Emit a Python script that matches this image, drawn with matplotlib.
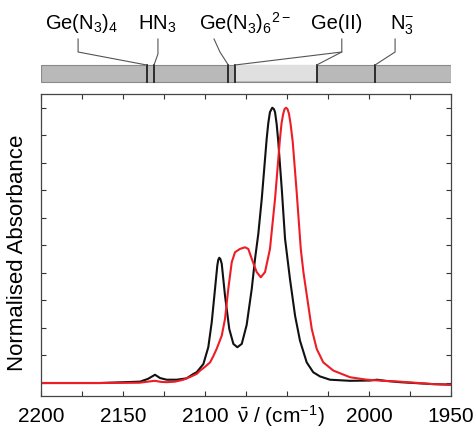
import matplotlib.pyplot as plt
from matplotlib.patches import Rectangle
import numpy as np

plt.rcParams['font.family'] = ['Liberation Sans', 'DejaVu Sans']
plt.rcParams['mathtext.fontset'] = 'custom'
plt.rcParams['mathtext.rm'] = 'Liberation Sans'
plt.rcParams['mathtext.it'] = 'Liberation Sans:italic'

# black spectrum (wavenumber, normalised absorbance)
wn_black = [2200, 2164, 2139.6, 2134.8, 2130.5, 2127.4, 2123.4, 2117.3, 2111.2,
            2107.1, 2105.1, 2101.0, 2098.0, 2095.9, 2093.9, 2092.5, 2091.9, 2091.3,
            2090.6, 2089.8, 2087.8, 2085.2, 2082.7, 2080.3, 2077.6, 2074.6, 2071.5,
            2069.5, 2067.5, 2065.4, 2062.4, 2061.4, 2060.4, 2059.0, 2058.0, 2057.3,
            2056.3, 2055.3, 2053.2, 2051.2, 2048.2, 2045.1, 2042.1, 2038.0, 2034.0,
            2029.9, 2023.8, 2011.6, 1999.4, 1995.1, 1990.2, 1981.1, 1961.0, 1950]
ab_black = [0.0, 0.0, 0.005, 0.015, 0.030, 0.018, 0.012, 0.012, 0.017,
            0.033, 0.039, 0.069, 0.130, 0.221, 0.342, 0.427, 0.448, 0.455,
            0.450, 0.433, 0.317, 0.196, 0.142, 0.130, 0.142, 0.211, 0.342,
            0.451, 0.542, 0.669, 0.887, 0.945, 0.984, 1.0, 0.995, 0.984,
            0.940, 0.875, 0.705, 0.524, 0.378, 0.245, 0.154, 0.075, 0.039,
            0.024, 0.012, 0.008, 0.009, 0.012, 0.008, 0.003, -0.004, -0.006]

# red spectrum
wn_red = [2200, 2164, 2140, 2134.8, 2130.5, 2126.8, 2123.4, 2118.3, 2113.2,
          2109.1, 2105.1, 2103.0, 2100.0, 2096.9, 2094.9, 2092.9, 2089.8,
          2087.8, 2085.8, 2083.7, 2081.7, 2078.7, 2075.6, 2073.6, 2071.5,
          2068.5, 2066.0, 2063.4, 2060.4, 2057.3, 2054.3, 2053.3, 2052.3, 2051.5,
          2050.6, 2049.7, 2048.8, 2047.8, 2046.5, 2044.1, 2041.6, 2040.0, 2037.0,
          2034.9, 2031.9, 2027.9, 2021.7, 2011.6, 2001.4, 1991.3, 1981.1, 1961.0, 1950]
ab_red = [0.0, 0.0, 0.001, 0.005, 0.008, 0.004, 0.003, 0.005, 0.012,
          0.022, 0.033, 0.045, 0.059, 0.075, 0.098, 0.124, 0.172,
          0.233, 0.342, 0.439, 0.475, 0.487, 0.493, 0.487, 0.451,
          0.403, 0.384, 0.403, 0.487, 0.669, 0.887, 0.945, 0.978, 0.995,
          1.0, 0.995, 0.978, 0.940, 0.875, 0.693, 0.487, 0.403, 0.281,
          0.196, 0.124, 0.075, 0.045, 0.021, 0.012, 0.008, 0.005, -0.004, -0.006]

# band assignments
species = [r'Ge(N$_3$)$_4$', r'HN$_3$', r'Ge(N$_3$)$_6$$^{2-}$', 'Ge(II)', r'N$_3^{-}$']
band_lines = [2135.6, 2131.1, 2085.8, 2081.7, 2031.9, 1996.3]
light_range = (2081.7, 2031.9)

fig = plt.figure(figsize=(4.77, 4.31), dpi=100)
ax = fig.add_axes([0.086, 0.079, 0.8595, 0.7007])
ax.plot(wn_black, ab_black, color='#111111', lw=1.5)
ax.plot(wn_red, ab_red, color='#ee1c25', lw=1.5)
ax.set_xlim(2200, 1950)
ax.set_ylim(-0.047, 1.05)
ax.set_xticks([2200, 2150, 2100, 2050, 2000, 1950])
ax.set_xticklabels(['2200', '2150', '2100', '', '2000', '1950'])
ax.set_xticks(np.arange(1950, 2201, 25), minor=True)
ax.set_yticks(np.arange(0, 1.01, 0.1))
ax.set_yticklabels([])
ax.tick_params(which='both', direction='in', top=True, right=True,
               length=3.5, width=0.8, color='#333333', labelsize=15, pad=7)
for s in ax.spines.values():
    s.set_color('#444444')
    s.set_linewidth(0.9)
ax.set_ylabel('Normalised Absorbance', fontsize=16)
ax.yaxis.set_label_coords(-0.032, 0.477)
ax.text(2053.7, -0.14, r'$\bar{\mathrm{\nu}}$ / (cm$^{-1}$)', fontsize=15,
        ha='center', va='baseline')

# top band diagram, y in pixel units
top = fig.add_axes([0.086, 0.7796, 0.8595, 0.2204])
top.set_xlim(2200, 1950)
top.set_ylim(95, 0)
top.axis('off')
top.add_patch(Rectangle((2200, 66), -250, 17, facecolor='#b9b9b9',
                        edgecolor='#8a8a8a', lw=0.8))
top.add_patch(Rectangle((light_range[0], 66.5), light_range[1] - light_range[0], 16,
                        facecolor='#e0e0e0', edgecolor='none'))
for b in band_lines:
    top.plot([b, b], [66, 83], color='#222222', lw=1.3)

label_x = [2175.6, 2129.3, 2075.6, 2019.5, 1979.9]
for name, lx in zip(species, label_x):
    top.text(lx, 29.5, name, fontsize=14.5, ha='center', va='baseline')

lc = dict(color='#555555', lw=0.8)
top.plot([2177.4, 2177.4, band_lines[0]], [40, 53, 66], **lc)
top.plot([2128.7, 2128.7, band_lines[1]], [40, 55, 66], **lc)
top.plot([2094.5, 2090.9, band_lines[2]], [40, 53, 66], **lc)
top.plot([2016.6, 2016.6, band_lines[3]], [40, 53, 66], **lc)
top.plot([2016.6, band_lines[4]], [53, 66], **lc)
top.plot([1984.1, 1984.1, band_lines[5]], [40, 53, 66], **lc)

fig.savefig('out.png', dpi=100)
